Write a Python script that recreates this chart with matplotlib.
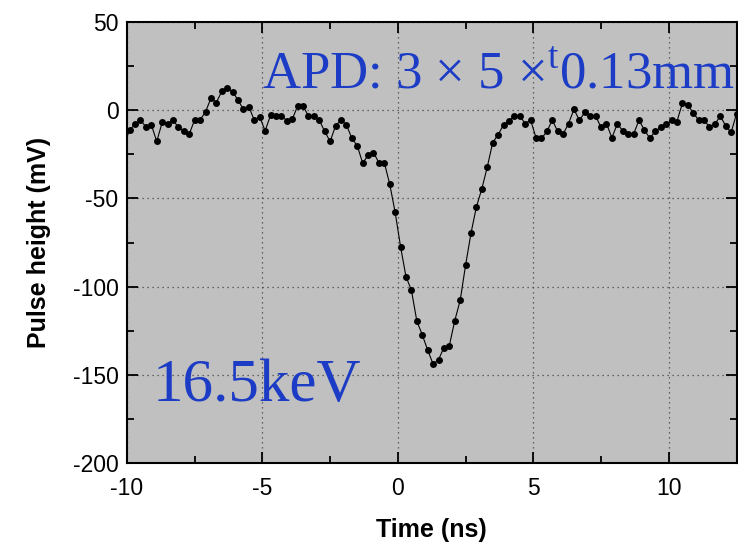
import numpy as np
import matplotlib
matplotlib.use("Agg")
import matplotlib.pyplot as plt
from matplotlib.ticker import MultipleLocator

plt.rcParams['font.family'] = ['Liberation Sans', 'DejaVu Sans']
plt.rcParams['mathtext.fontset'] = 'custom'
plt.rcParams['mathtext.rm'] = 'Liberation Serif'
plt.rcParams['axes.unicode_minus'] = False

# ----- datos -----
t_inicio = -10.1   # ns
t_paso = 0.2       # ns
altura = [
    -19.0,
    -11.2, -7.9, -5.6, -9.4, -8.2, -17.7, -6.9, -7.5, -5.6, -9.7,
    -12.0, -13.5, -5.4, -5.4, -1.0, 6.9, 4.4, 10.7, 12.9, 10.5,
    5.8, 0.5, 2.0, -5.6, -3.7, -11.6, -2.9, -3.0, -3.0, -6.0,
    -5.2, 2.4, 2.4, -3.3, -3.3, -5.6, -12.0, -17.7, -8.8, -5.6,
    -8.2, -15.8, -20.1, -29.9, -25.6, -24.0, -29.7, -29.7, -41.9, -57.9,
    -77.4, -94.4, -102.0, -119.5, -127.3, -136.0, -143.9, -141.4, -134.6, -133.5,
    -119.3, -107.8, -87.8, -69.6, -54.7, -44.5, -32.2, -18.3, -13.9, -8.2,
    -6.0, -3.3, -3.3, -7.5, -5.6, -15.6, -16.0, -12.0, -5.6, -12.0,
    -13.5, -7.5, 0.5, -5.6, -1.2, -3.3, -3.3, -9.7, -7.5, -15.6,
    -7.7, -11.6, -13.5, -13.5, -5.6, -11.2, -15.8, -12.0, -9.7, -7.9,
    -5.6, -6.4, 3.9, 3.1, -1.4, -5.6, -5.6, -9.4, -7.9, -3.3,
    -8.8, -12.6, -2.0,
]
tiempo = t_inicio + t_paso * np.arange(len(altura))

texto_apd = "APD: 3 \u00d7 5 \u00d7$^{\\mathrm{t}}$0.13mm"
texto_energia = "16.5keV"
azul = '#1c3cc6'

# ----- grafica -----
fig = plt.figure(figsize=(7.38, 5.47), dpi=100)
ax = fig.add_axes([0.172, 0.1536, 0.826, 0.806])
ax.set_facecolor('#c0c0c0')

ax.plot(tiempo, altura, color='black', linewidth=0.8,
        marker='o', markersize=5, markeredgewidth=0)

ax.set_xlim(-10, 12.5)
ax.set_ylim(-200, 50)
ax.xaxis.set_major_locator(MultipleLocator(5))
ax.xaxis.set_minor_locator(MultipleLocator(2.5))
ax.yaxis.set_major_locator(MultipleLocator(50))
ax.yaxis.set_minor_locator(MultipleLocator(25))

ax.grid(True, which='major', linestyle=(0, (1, 3)), color='#444444', linewidth=0.9)
ax.tick_params(which='both', direction='in', top=True, right=True, labelsize=16.5, width=1.3)
ax.tick_params(which='major', length=8)
ax.tick_params(which='minor', length=5)
ax.tick_params(axis='x', pad=10)
ax.tick_params(axis='y', pad=6)
for s in ax.spines.values():
    s.set_linewidth(1.5)

ax.set_xlabel("Time (ns)", fontsize=18, fontweight='bold', labelpad=13)
ax.set_ylabel("Pulse height (mV)", fontsize=18, fontweight='bold', labelpad=16)

ax.text(-5.02, 12.2, texto_apd, color=azul, fontsize=38,
        family='Liberation Serif', ha='left', va='baseline')
ax.text(-9.07, -165, texto_energia, color=azul, fontsize=44,
        family='Liberation Serif', ha='left', va='baseline')

fig.savefig("out.png", dpi=100)
